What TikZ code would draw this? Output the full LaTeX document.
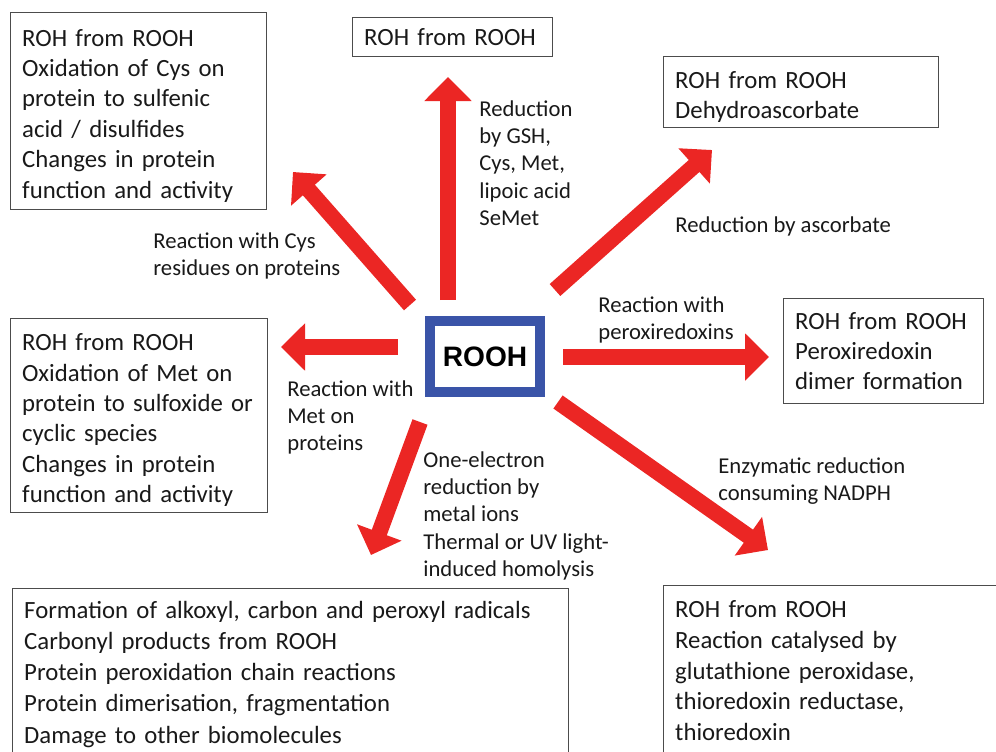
\documentclass[tikz,border=0pt]{standalone}
\usepackage{fontspec}
\setmainfont{Carlito}
\newfontfamily\arialfont{Liberation Sans}
\usetikzlibrary{arrows.meta}
\definecolor{arrowred}{RGB}{235,38,36}
\definecolor{roohblue}{RGB}{58,84,168}

\begin{document}
\begin{tikzpicture}[x=0.02cm, y=-0.02cm,
    box/.style={draw=black!70, line width=0.8pt, anchor=north west, align=left,
      inner xsep=0.23cm, inner ysep=0pt, text=black!90, font=\fontsize{14.1}{17.3}\selectfont},
    lowbox/.style={box, execute at begin node={\rule{0pt}{0.52cm}}},
    lbl/.style={anchor=north west, align=left, inner sep=0pt, text=black!90,
      font=\fontsize{12.9}{15.6}\selectfont},
    rarrow/.style={draw=arrowred, line width=0.32cm, -{Triangle[width=0.92cm, length=0.48cm]}}]
        \useasboundingbox (0,0) rectangle (996,751);
        \clip (0,0) rectangle (996,751);

        \node[draw=roohblue, line width=0.2cm, minimum width=2.2cm, minimum height=1.42cm,
          font=\arialfont\bfseries\fontsize{16}{19}\selectfont] (rooh) at (485,356.5) {ROOH};

        \node[lowbox, text width=4.66cm, minimum height=3.94cm] (cysbox) at (10,12)
          {ROH from ROOH\\ Oxidation of Cys on\\ protein to sulfenic\\ acid / disulfides\\ Changes in protein\\ function and activity};
        \node[box, text width=3.54cm, minimum height=0.78cm] (gshbox) at (352,17) {ROH from ROOH};
        \node[lowbox, text width=5.04cm, minimum height=1.42cm] (ascbox) at (663,56)
          {ROH from ROOH\\ Dehydroascorbate};
        \node[box, text width=3.54cm, minimum height=2.1cm] (prxbox) at (783,298)
          {ROH from ROOH\\ Peroxiredoxin\\ dimer formation};
        \node[lowbox, text width=4.68cm, minimum height=3.88cm] (metbox) at (10,318)
          {ROH from ROOH\\ Oxidation of Met on\\ protein to sulfoxide or\\ cyclic species\\ Changes in protein\\ function and activity};
        \node[box, text width=10.66cm, minimum height=3.42cm, font=\fontsize{14.1}{17.8}\selectfont] (radbox) at (12,588)
          {Formation of alkoxyl, carbon and peroxyl radicals\\ Carbonyl products from ROOH\\ Protein peroxidation chain reactions\\ Protein dimerisation, fragmentation\\ Damage to other biomolecules};
        \node[box, text width=6.38cm, minimum height=3.4cm, font=\fontsize{14.1}{17.4}\selectfont] (enzbox) at (663,585)
          {ROH from ROOH\\ Reaction catalysed by\\ glutathione peroxidase,\\ thioredoxin reductase,\\ thioredoxin};

        \node[lbl] (gshlbl) at (479,100) {Reduction\\ by GSH,\\ Cys, Met,\\ lipoic acid\\ SeMet};
        \node[lbl] (cyslbl) at (153,232) {Reaction with Cys\\ residues on proteins};
        \node[lbl] (asclbl) at (675,216) {Reduction by ascorbate};
        \node[lbl] (prxlbl) at (598,296) {Reaction with\\ peroxiredoxins};
        \node[lbl] (metlbl) at (287,380) {Reaction with\\ Met on\\ proteins};
        \node[lbl] (onelbl) at (423,451) {One-electron\\ reduction by\\ metal ions\\ Thermal or UV light-\\ induced homolysis};
        \node[lbl] (enzlbl) at (718,457) {Enzymatic reduction\\ consuming NADPH};

        \coordinate (gshS) at (448,300); \coordinate (gshE) at (448,77);
        \coordinate (cysS) at (410,305); \coordinate (cysE) at (293,172);
        \coordinate (ascS) at (555,290); \coordinate (ascE) at (712,150);
        \coordinate (metS) at (398,347); \coordinate (metE) at (281,347);
        \coordinate (prxS) at (563,357); \coordinate (prxE) at (769,357);
        \coordinate (radS) at (420,422); \coordinate (radE) at (371,555);
        \coordinate (enzS) at (558,402); \coordinate (enzE) at (768,550);

        \draw[rarrow] (gshS) -- (gshE);
        \draw[rarrow] (cysS) -- (cysE);
        \draw[rarrow] (ascS) -- (ascE);
        \draw[rarrow] (metS) -- (metE);
        \draw[rarrow] (prxS) -- (prxE);
        \draw[rarrow] (radS) -- (radE);
        \draw[rarrow] (enzS) -- (enzE);

    \end{tikzpicture}
\end{document}
